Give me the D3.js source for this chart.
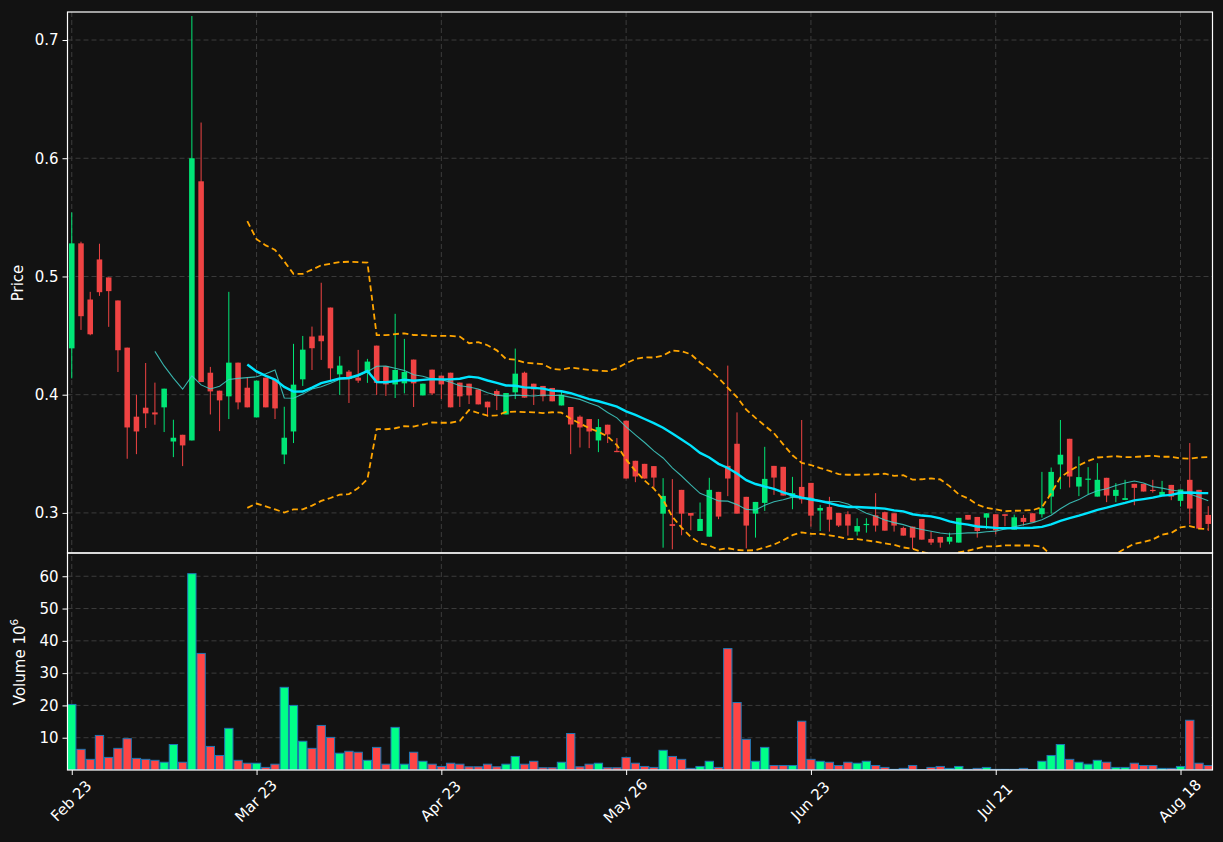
<!DOCTYPE html>
<html>
<head>
<meta charset="utf-8">
<script src="https://cdn.jsdelivr.net/npm/d3@7"></script>
<style>
  html, body { margin: 0; padding: 0; background: #121212; }
  svg { display: block; }
  svg text { font-family: "DejaVu Sans", "Liberation Sans", sans-serif !important; }
</style>
</head>
<body>
<svg id="chart" width="1223" height="842"></svg>
<script>
// ---------------- DATA ----------------
const tickIndex  = [0, 20, 40, 60, 80, 100, 120];
const tickLabels = ["Feb 23", "Mar 23", "Apr 23", "May 26", "Jun 23", "Jul 21", "Aug 18"];

const opens = [
  .4392,.528,.4805,.5144,.4992,.4797,.4398,.3814,.389,.385,
  .3893,.3604,.3661,.3613,.5805,.4186,.4034,.3986,.4271,.4059,
  .3808,.4144,.4127,.3494,.3689,.413,.4492,.45,.4737,.4172,
  .4195,.4144,.4184,.4415,.424,.4087,.4096,.4297,.3994,.4212,
  .4161,.4186,.4102,.4093,.4045,.3941,.4031,.3833,.402,.4186,
  .4093,.4074,.4057,.3909,.3896,.3814,.3794,.3613,.3746,.3525,
  .378,.3441,.3415,.3396,.2994,.2905,.3195,.3,.2847,.2799,
  .3178,.3398,.3585,.3136,.2994,.3085,.3398,.339,.3136,.322,
  .3254,.302,.3051,.3,.2989,.2842,.2901,.298,.3006,.2997,
  .2873,.2884,.2949,.278,.2797,.2757,.2749,.2983,.2966,.296,
  .2989,.2989,.2858,.2958,.2997,.2989,.3138,.341,.3627,.3223,
  .3282,.3138,.3297,.3144,.311,.3246,.3246,.3195,.3142,.3237,
  .3102,.328,.3195,.2983
];
const highs = [
  .5542,.5294,.487,.5277,.4992,.4797,.4398,.4,.4268,.4102,
  .4051,.3788,.3661,.7203,.6302,.4235,.4034,.487,.4271,.415,
  .4119,.4144,.4127,.3898,.443,.4497,.4576,.4947,.4737,.4325,
  .4209,.4379,.4303,.4415,.424,.4684,.4472,.4297,.4093,.4212,
  .4161,.4186,.4102,.4093,.4045,.3941,.4045,.4014,.439,.4195,
  .4093,.4074,.4057,.4028,.3896,.3825,.3794,.3794,.3746,.3633,
  .378,.3441,.3415,.3396,.3294,.3286,.3195,.3,.3088,.3297,
  .3178,.4246,.385,.3136,.3093,.3559,.3398,.339,.3305,.3786,
  .3254,.3068,.3136,.3,.3014,.2955,.2955,.3167,.3011,.2997,
  .2884,.2884,.2949,.2842,.2797,.2833,.2958,.2983,.2966,.2997,
  .2989,.2989,.2986,.2983,.2997,.3347,.3384,.3786,.3627,.3478,
  .3387,.3421,.3297,.3252,.328,.3246,.3246,.328,.3271,.3237,
  .3198,.3591,.3195,.3057
];
const lows = [
  .4138,.4548,.4503,.4836,.4574,.4192,.3458,.3497,.3718,.3746,
  .3684,.3472,.3396,.3613,.4107,.3833,.3692,.3794,.3876,.3893,
  .3808,.3893,.3794,.3413,.3591,.4074,.4209,.4294,.4119,.3998,
  .393,.41,.41,.3998,.3989,.3972,.4011,.3896,.3994,.3998,
  .3963,.3893,.3896,.3921,.3918,.3814,.387,.3833,.3963,.3975,
  .3913,.3944,.3944,.3909,.3497,.3553,.3548,.3514,.3591,.3514,
  .3291,.326,.3291,.3215,.2706,.2692,.2811,.2853,.2847,.2799,
  .2947,.3142,.2994,.27,.2791,.3017,.3153,.3147,.3031,.3079,
  .2884,.2847,.2842,.2881,.2808,.2808,.2833,.2842,.285,.2842,
  .2808,.2695,.2774,.2729,.2706,.2735,.2749,.2943,.2791,.2864,
  .2819,.2887,.2858,.2893,.2921,.296,.2994,.3201,.3215,.3142,
  .3159,.3138,.3091,.3091,.311,.3065,.3181,.3172,.3142,.3108,
  .3054,.2904,.2867,.2847
];
const closes = [
  .528,.4664,.4511,.4867,.4876,.4376,.3723,.3689,.3842,.3833,
  .4051,.3636,.3571,.6,.4107,.4028,.3952,.4271,.3935,.3893,
  .4119,.3893,.3884,.3636,.4085,.4381,.4393,.4452,.4223,.4246,
  .4133,.4119,.428,.41,.4087,.4209,.4192,.4096,.4093,.4011,
  .4087,.3893,.3986,.3994,.3918,.3893,.3989,.4014,.4178,.3975,
  .4045,.3986,.3944,.4,.3748,.3723,.3689,.3726,.3664,.3514,
  .3291,.3308,.3291,.3299,.3144,.289,.2994,.2977,.2949,.3195,
  .2969,.3291,.2994,.2893,.3093,.3288,.3299,.3147,.3167,.3113,
  .2977,.3042,.2943,.2893,.2893,.2889,.2907,.2893,.285,.2893,
  .2808,.2791,.2774,.2749,.2749,.2797,.2958,.2943,.2847,.2997,
  .2853,.2975,.2963,.2924,.2921,.304,.3347,.3492,.3308,.3303,
  .329,.328,.3147,.3195,.3125,.3212,.3181,.3186,.3178,.3138,
  .3198,.3037,.2867,.2907
];
// volume in millions
const volumes = [
  20.3,6.4,3.3,10.7,3.9,6.7,9.7,3.6,3.3,3.0,
  2.4,7.9,2.4,60.8,36.1,7.3,4.5,12.9,3.0,2.1,
  2.1,0.8,1.8,25.6,20.0,8.9,6.7,13.8,10.1,5.2,
  5.8,5.5,3.0,7.0,1.8,13.2,1.8,5.5,2.7,1.8,
  1.1,2.1,1.8,1.0,1.0,1.8,1.0,1.8,4.2,1.8,
  2.7,0.7,0.7,2.4,11.3,1.0,1.8,2.1,0.7,0.7,
  3.9,2.1,1.1,0.8,6.1,4.2,3.3,0.5,1.1,2.7,
  0.8,37.6,20.9,9.5,2.7,7.0,1.4,1.4,1.4,15.1,
  3.3,2.7,2.4,1.4,2.4,2.1,2.7,1.4,0.8,0.2,
  0.5,1.4,0.1,0.8,1.1,0.5,1.1,0.2,0.5,0.8,
  0.2,0.2,0.2,0.5,0.1,2.7,4.5,7.9,3.3,2.4,
  1.8,3.0,2.4,0.8,0.8,2.1,1.4,1.4,0.5,0.5,
  1.1,15.4,2.1,1.4
];
const priceTicks  = [0.3, 0.4, 0.5, 0.6, 0.7];
const volumeTicks = [10, 20, 30, 40, 50, 60];

// ---------------- DERIVED (moving averages, bands) ----------------
const candles = closes.map((c, i) => ({ i, o: opens[i], h: highs[i], l: lows[i], c, v: volumes[i] }));
function sma(n) {
  return closes.map((_, i) => i < n - 1 ? null : d3.mean(closes.slice(i - n + 1, i + 1)));
}
const ma10 = sma(10);
const ma20 = sma(20);
const bandUp = [], bandLo = [];
closes.forEach((_, i) => {
  if (i < 19) { bandUp.push(null); bandLo.push(null); return; }
  const w = closes.slice(i - 19, i + 1);
  const m = d3.mean(w);
  const sd = Math.sqrt(d3.mean(w, d => (d - m) * (d - m)));
  bandUp.push(m + 2 * sd);
  bandLo.push(m - 2 * sd);
});

// ---------------- LAYOUT ----------------
const L = 67.5, R = 1212.5;
const pTop = 12, pBot = 553, vTop = 553, vBot = 770;
const UP = "#00e676", DOWN = "#ef4343";
const VUP = "#00ff88", VDOWN = "#ff4545";
const GRID = "#3c3c3c";
const FONT = "'DejaVu Sans', 'Liberation Sans', sans-serif";

const svg = d3.select("#chart");
svg.append("rect").attr("width", 1223).attr("height", 842).attr("fill", "#121212");

const x = d3.scaleLinear().domain([-0.46, 123.46]).range([L, R]);
const y = d3.scaleLinear().domain([0.2661, 0.7237]).range([pBot, pTop]);
const yv = d3.scaleLinear().domain([0, 67.2]).range([vBot, vTop]);
const step = x(1) - x(0);

const defs = svg.append("defs");
defs.append("clipPath").attr("id", "clipP").append("rect")
  .attr("x", L).attr("y", pTop).attr("width", R - L).attr("height", pBot - pTop);
defs.append("clipPath").attr("id", "clipV").append("rect")
  .attr("x", L).attr("y", vTop).attr("width", R - L).attr("height", vBot - vTop);

// grid
const grid = svg.append("g").attr("stroke", GRID).attr("stroke-dasharray", "5,3").attr("stroke-width", 1);
tickIndex.forEach(t => {
  grid.append("line").attr("x1", x(t)).attr("x2", x(t)).attr("y1", pTop).attr("y2", vBot);
});
priceTicks.forEach(t => {
  grid.append("line").attr("x1", L).attr("x2", R).attr("y1", y(t)).attr("y2", y(t));
});
volumeTicks.forEach(t => {
  grid.append("line").attr("x1", L).attr("x2", R).attr("y1", yv(t)).attr("y2", yv(t));
});

// candles
const gc = svg.append("g").attr("clip-path", "url(#clipP)");
const bw = step * 0.6;
gc.selectAll("line.wick").data(candles).join("line")
  .attr("x1", d => x(d.i)).attr("x2", d => x(d.i))
  .attr("y1", d => y(d.h)).attr("y2", d => y(d.l))
  .attr("stroke", d => d.c >= d.o ? UP : DOWN).attr("stroke-width", 1);
gc.selectAll("rect.body").data(candles).join("rect")
  .attr("x", d => x(d.i) - bw / 2).attr("width", bw)
  .attr("y", d => y(Math.max(d.o, d.c)))
  .attr("height", d => Math.max(1.2, Math.abs(y(d.o) - y(d.c))))
  .attr("fill", d => d.c >= d.o ? UP : DOWN);

// lines
const lineGen = arr => d3.line().defined(d => d != null).x((d, i) => x(i)).y(d => y(d))(arr);
gc.append("path").attr("d", lineGen(bandUp)).attr("fill", "none")
  .attr("stroke", "#ffa500").attr("stroke-width", 1.8).attr("stroke-dasharray", "6,3.5");
gc.append("path").attr("d", lineGen(bandLo)).attr("fill", "none")
  .attr("stroke", "#ffa500").attr("stroke-width", 1.8).attr("stroke-dasharray", "6,3.5");
gc.append("path").attr("d", lineGen(ma10)).attr("fill", "none")
  .attr("stroke", "#40d0c8").attr("stroke-opacity", 0.85).attr("stroke-width", 1.1);
gc.append("path").attr("d", lineGen(ma20)).attr("fill", "none")
  .attr("stroke", "#00e5ff").attr("stroke-width", 2.4);

// volume
const gv = svg.append("g").attr("clip-path", "url(#clipV)");
const vw = step * 0.9;
gv.selectAll("rect").data(candles).join("rect")
  .attr("x", d => x(d.i) - vw / 2).attr("width", vw)
  .attr("y", d => yv(d.v)).attr("height", d => yv(0) - yv(d.v))
  .attr("fill", d => d.c >= d.o ? VUP : VDOWN)
  .attr("stroke", "#1f77b4").attr("stroke-width", 1);

// axes
function styleAxis(g) {
  g.attr("font-size", null).attr("font-family", null);
  g.selectAll("path.domain").remove();
  g.selectAll(".tick line").attr("stroke", "#ffffff").attr("stroke-width", 1);
  g.selectAll(".tick text").attr("fill", "#ffffff")
    .style("font-size", "15px").style("font-family", FONT);
}
svg.append("g").attr("transform", `translate(${L},0)`)
  .call(d3.axisLeft(y).tickValues(priceTicks).tickFormat(d3.format(".1f")).tickSize(5).tickPadding(4))
  .call(styleAxis);
svg.append("g").attr("transform", `translate(${L},0)`)
  .call(d3.axisLeft(yv).tickValues(volumeTicks).tickFormat(d3.format("d")).tickSize(5).tickPadding(4))
  .call(styleAxis);
const xa = svg.append("g").attr("transform", `translate(0,${vBot})`)
  .call(d3.axisBottom(x).tickValues(tickIndex).tickFormat((d, i) => tickLabels[i]).tickSize(5))
  .call(styleAxis);
xa.selectAll(".tick text")
  .attr("text-anchor", "middle").attr("dy", null).attr("y", null)
  .attr("dominant-baseline", "central")
  .attr("transform", "translate(-1,31) rotate(-45)");

// spines
[[pTop, pBot], [vTop, vBot]].forEach(([t, b]) => {
  svg.append("rect").attr("x", L).attr("y", t).attr("width", R - L).attr("height", b - t)
    .attr("fill", "none").attr("stroke", "#ffffff").attr("stroke-width", 1.2);
});

// axis labels
svg.append("text").attr("transform", "translate(23,283) rotate(-90)")
  .attr("text-anchor", "middle").attr("fill", "#ffffff")
  .style("font-size", "15px").style("font-family", FONT).text("Price");
const vl = svg.append("text").attr("transform", "translate(25,662) rotate(-90)")
  .attr("text-anchor", "middle").attr("fill", "#ffffff")
  .style("font-size", "15px").style("font-family", FONT);
vl.append("tspan").text("Volume  10");
vl.append("tspan").style("font-size", "10.5px").attr("dy", -7).text("6");
</script>
</body>
</html>
